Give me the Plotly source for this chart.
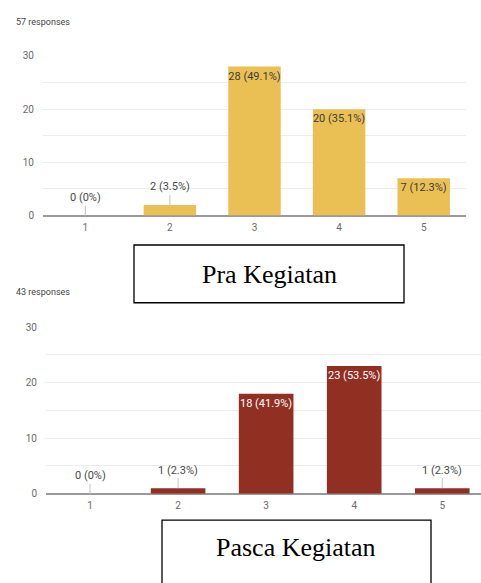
import plotly.graph_objects as go

# Survey answers on a 1-5 scale, before and after the activity
categories = ["1", "2", "3", "4", "5"]
pra_counts = [0, 2, 28, 20, 7]
pasca_counts = [0, 1, 18, 23, 1]
pra_total = 57
pasca_total = 43

y_tickvals = [0, 5, 10, 15, 20, 25, 30]
y_ticktext = ["0", "", "10", "", "20", "", "30"]

PRA_COLOR = "#EAC054"
PASCA_COLOR = "#912F23"
W, H = 481, 583


def labels(counts, total):
    out = []
    for c in counts:
        pct = round(100 * c / total, 1)
        out.append(f"{c} ({pct:g}%)")
    return out


def px_y(y):
    return 1 - y / H


fig = go.Figure()

panels = [
    dict(counts=pra_counts, total=pra_total, color=PRA_COLOR, txt="#3c3c3c",
         xa="x", ya="y"),
    dict(counts=pasca_counts, total=pasca_total, color=PASCA_COLOR, txt="#ffffff",
         xa="x2", ya="y2"),
]

annotations = []
for p in panels:
    texts = labels(p["counts"], p["total"])
    inside = [t if c >= 3 else "" for t, c in zip(texts, p["counts"])]
    fig.add_trace(go.Bar(
        x=categories, y=p["counts"], marker_color=p["color"],
        marker_line_width=0, width=0.62,
        text=inside, textposition="inside", insidetextanchor="end",
        textfont=dict(color=p["txt"], size=11, family="Roboto"),
        textangle=0, cliponaxis=False,
        xaxis=p["xa"], yaxis=p["ya"], showlegend=False, hoverinfo="skip",
    ))
    # small bars get their label above, joined by a thin leader line
    for i, (c, t) in enumerate(zip(p["counts"], texts)):
        if c < 3:
            annotations.append(dict(
                x=i, y=c, xref=p["xa"], yref=p["ya"], text=t,
                showarrow=True, arrowhead=0, arrowwidth=1, arrowcolor="#c4c4c4",
                ax=0, ay=-18, standoff=0,
                font=dict(size=11, color="#4a4a4a", family="Roboto"),
            ))

axis_common = dict(
    showgrid=False, zeroline=False, showline=False, ticks="",
    tickfont=dict(size=10, color="#6b6b6b", family="Roboto"),
    fixedrange=True,
)
yaxis_common = dict(
    range=[0, 30], tickvals=y_tickvals, ticktext=y_ticktext,
    showgrid=True, gridcolor="#ececec", gridwidth=1,
    zeroline=True, zerolinecolor="#9a9a9a", zerolinewidth=2,
    ticks="", ticklabelstandoff=8,
    tickfont=dict(size=10, color="#6b6b6b", family="Roboto"),
    fixedrange=True,
)

fig.update_layout(
    width=W, height=H, margin=dict(l=0, r=0, t=0, b=0),
    paper_bgcolor="white", plot_bgcolor="white", bargap=0.38,
    uniformtext=dict(minsize=11, mode="show"),
    xaxis=dict(**axis_common, domain=[43 / W, 466 / W], range=[-0.5, 4.5],
               anchor="y", ticklabelstandoff=4),
    yaxis=dict(**yaxis_common, domain=[px_y(214), px_y(51)], anchor="x"),
    xaxis2=dict(**axis_common, domain=[46 / W, 1.0], range=[-0.5, 4.44],
                anchor="y2", ticklabelstandoff=4),
    yaxis2=dict(**yaxis_common, domain=[px_y(498), px_y(328)], anchor="x2"),
    annotations=annotations + [
        dict(x=14 / W, y=px_y(16), xref="paper", yref="paper", xanchor="left",
             yanchor="middle", text=f"{pra_total} responses", showarrow=False,
             font=dict(size=9, color="#444444", family="Roboto")),
        dict(x=14 / W, y=px_y(292), xref="paper", yref="paper", xanchor="left",
             yanchor="middle", text=f"{pasca_total} responses", showarrow=False,
             font=dict(size=9, color="#444444", family="Roboto")),
        dict(x=269 / W, y=px_y(274), xref="paper", yref="paper", xanchor="center",
             yanchor="middle", text="Pra Kegiatan", showarrow=False,
             font=dict(size=26, color="#000000", family="Liberation Serif")),
        dict(x=296 / W, y=px_y(553), xref="paper", yref="paper", xanchor="center",
             yanchor="middle", text="Pasca Kegiatan", showarrow=False,
             font=dict(size=26, color="#000000", family="Liberation Serif")),
    ],
    shapes=[
        dict(type="rect", xref="paper", yref="paper",
             x0=134 / W, x1=404 / W, y0=px_y(303), y1=px_y(244),
             line=dict(color="#000000", width=1.3), fillcolor="rgba(0,0,0,0)"),
        dict(type="rect", xref="paper", yref="paper",
             x0=162 / W, x1=431 / W, y0=-0.02, y1=px_y(525),
             line=dict(color="#000000", width=1.3), fillcolor="rgba(0,0,0,0)"),
    ],
)

fig.write_html("out.html")
